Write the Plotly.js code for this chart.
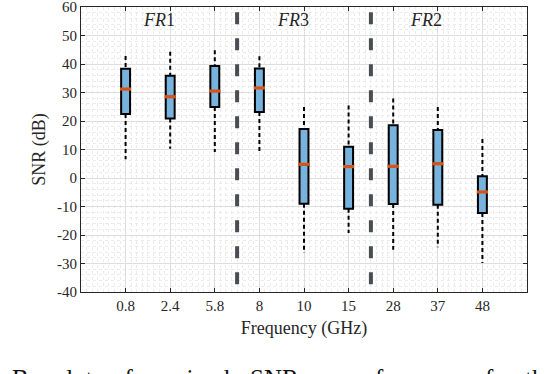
<!DOCTYPE html>
<html>
<head>
<meta charset="utf-8">
<script src="https://cdn.plot.ly/plotly-3.0.1.min.js"></script>
<style>html,body{margin:0;padding:0;background:#fff;}#chart{width:556px;height:374px;}</style>
</head>
<body>
<div id="chart"></div>
<script>
// ---- data ----
var categories = ['0.8', '2.4', '5.8', '8', '10', '15', '28', '37', '48'];
var upperWhisker = [42.8, 44.3, 44.8, 42.7, 24.9, 25.4, 27.9, 24.9, 13.7];
var q3Values     = [38.3, 35.9, 39.3, 38.4, 17.2, 11.0, 18.5, 16.8, 0.6];
var medianValues = [31.2, 28.5, 30.5, 31.6, 4.8, 4.0, 4.1, 5.0, -4.9];
var q1Values     = [22.5, 20.9, 24.9, 23.2, -9.0, -10.8, -9.1, -9.4, -12.3];
var lowerWhisker = [6.6, 10.3, 9.1, 9.1, -26.3, -19.3, -25.2, -24.3, -29.8];
var yTickVals = [-40, -30, -20, -10, 0, 10, 20, 30, 40, 50, 60];
var yTickText = ['-40', '-30', '-20', '-10', '0', '10', '20', '30', '40', '50', '60'];
var bandLabels = ['FR1', 'FR3', 'FR2'];
var bandSeparatorsAfter = [3, 6]; // separators after the 3rd and 6th category

// ---- build traces ----
var pos = categories.map(function (c, i) { return i + 1; });
var textColor = '#262626';
var font = "'Liberation Serif', serif";

var boxTrace = {
  type: 'box',
  x: pos,
  q1: q1Values,
  median: medianValues,
  q3: q3Values,
  lowerfence: q1Values,
  upperfence: q3Values,
  width: 0.2,
  fillcolor: '#77B3DD',
  line: { color: '#000000', width: 2 },
  whiskerwidth: 0,
  boxpoints: false,
  hoverinfo: 'skip',
  showlegend: false
};

var wx = [], wy = [];
pos.forEach(function (p, i) {
  wx.push(p, p, null, p, p, null);
  wy.push(upperWhisker[i], q3Values[i], null, q1Values[i], lowerWhisker[i], null);
});
var whiskerTrace = {
  type: 'scatter', mode: 'lines', x: wx, y: wy,
  line: { color: '#000000', width: 2, dash: '4px,3px' },
  hoverinfo: 'skip', showlegend: false, connectgaps: false
};

var medianTrace = {
  type: 'scatter', mode: 'markers', x: pos, y: medianValues,
  marker: { symbol: 'line-ew', size: 8, line: { color: '#D95319', width: 3.2 } },
  hoverinfo: 'skip', showlegend: false
};

// separators between frequency bands
var shapes = bandSeparatorsAfter.map(function (n) {
  var x = n + 0.5;
  return { type: 'line', xref: 'x', yref: 'paper', x0: x, x1: x, y0: 0.982, y1: 0,
           line: { color: '#4A4D52', width: 4, dash: '12px,14px' }, layer: 'above' };
});

var bandX = [1.74, 4.75, 7.74];
var annotations = bandLabels.map(function (t, i) {
  return { xref: 'x', yref: 'y', x: bandX[i], y: 55.3, showarrow: false,
           text: '<i>' + t.slice(0, 2) + '</i>' + t.slice(2),
           font: { family: font, size: 18, color: textColor }, xanchor: 'center', yanchor: 'middle' };
});

// caption (partially visible at bottom of the picture)
var captionWords = ['t:', 'Boxplot', 'of', 'received', 'SNR', 'versus', 'frequency', 'for', 'the'];
var captionX = [6, 10, 110, 143, 248, 295, 373, 483, 523];
captionWords.forEach(function (w, i) {
  annotations.push({ xref: 'paper', yref: 'paper',
    x: (captionX[i] - 81.4) / 445.9, y: -0.25,
    xanchor: i === 0 ? 'right' : 'left', yanchor: 'top', showarrow: false, text: w,
    font: { family: font, size: 25, color: '#111111' } });
});

var layout = {
  width: 556, height: 374,
  margin: { l: 81.4, r: 28.7, t: 7.3, b: 81.7, pad: 0 },
  paper_bgcolor: '#ffffff', plot_bgcolor: '#ffffff',
  font: { family: font, size: 15, color: textColor },
  showlegend: false,
  xaxis: {
    range: [0, 10], tickmode: 'array', tickvals: pos, ticktext: categories,
    showline: true, linecolor: textColor, linewidth: 1, mirror: 'ticks',
    ticks: 'inside', ticklen: 4, tickcolor: textColor, tickwidth: 1,
    showgrid: true, gridcolor: '#DEDEDE', gridwidth: 1, zeroline: false,
    ticklabeloverflow: 'allow',
    tickfont: { family: font, size: 15, color: textColor },
    title: { text: 'Frequency (GHz)', font: { family: font, size: 18, color: textColor }, standoff: 8 },
    minor: { tickmode: 'linear', tick0: 0, dtick: 0.125, showgrid: true, gridcolor: '#EBEBEB', griddash: 'dot', gridwidth: 1, ticks: '' }
  },
  yaxis: {
    range: [-40, 60], tickmode: 'array', tickvals: yTickVals, ticktext: yTickText,
    showline: true, linecolor: textColor, linewidth: 1, mirror: 'ticks',
    ticks: 'inside', ticklen: 4, tickcolor: textColor, tickwidth: 1,
    showgrid: true, gridcolor: '#DEDEDE', gridwidth: 1, zeroline: false,
    ticklabeloverflow: 'allow',
    tickfont: { family: font, size: 15, color: textColor },
    title: { text: 'SNR (dB)', font: { family: font, size: 18, color: textColor }, standoff: 6 },
    minor: { tickmode: 'linear', tick0: -40, dtick: 2, showgrid: true, gridcolor: '#EBEBEB', griddash: 'dot', gridwidth: 1, ticks: '' }
  },
  shapes: shapes,
  annotations: annotations
};

Plotly.newPlot('chart', [boxTrace, whiskerTrace, medianTrace], layout, { staticPlot: true, displayModeBar: false });
</script>
</body>
</html>
